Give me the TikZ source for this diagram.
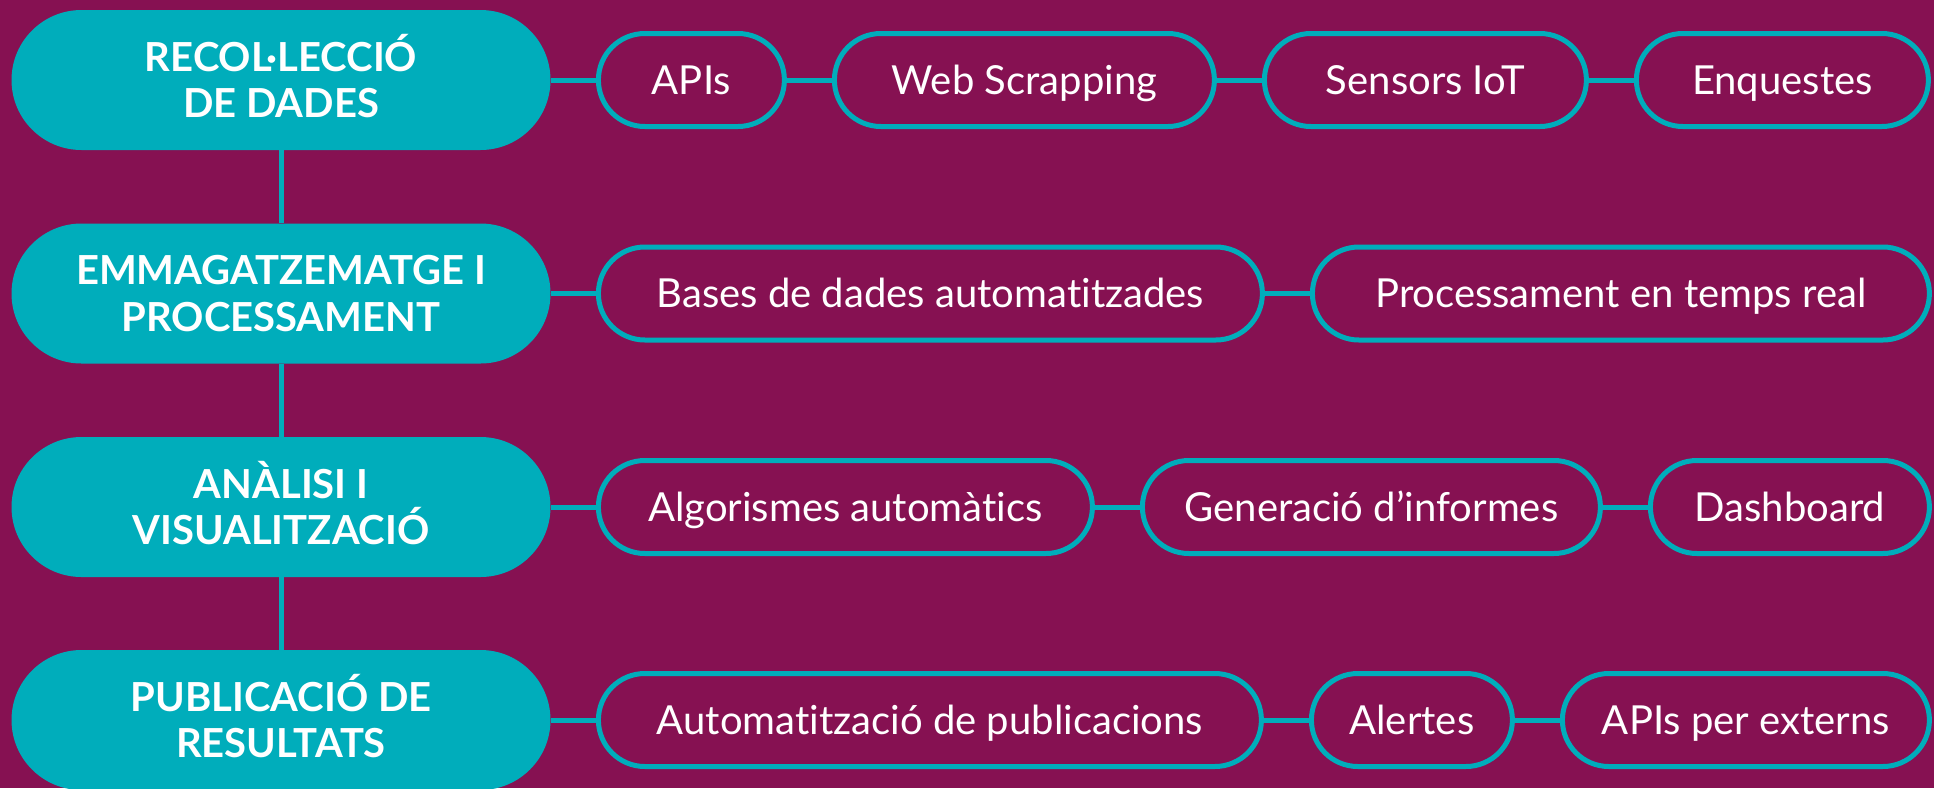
\documentclass[tikz,border=0pt]{standalone}
\usepackage{fontspec}
\setmainfont{Lato}[Ligatures=NoCommon]
\usetikzlibrary{positioning}
\definecolor{fons}{RGB}{134,17,82}
\definecolor{turquesa}{RGB}{0,173,187}
\newcommand{\px}{0.5pt}

\begin{document}
\begin{tikzpicture}[etapa/.style={fill=turquesa, rectangle, rounded corners=35pt, minimum width=539*\px, minimum height=140*\px, inner sep=0pt, text=white, align=center, text height=37.6pt, text depth=0pt, font=\fontsize{20}{23.3}\selectfont\bfseries},
    eina/.style={draw=turquesa, fill=fons, rectangle, line width=5*\px, rounded corners=23.25pt, minimum height=93*\px, inner sep=0pt, text height=14.3pt, text depth=0pt, text=white, font=\fontsize{20}{24}\selectfont},
    enllac/.style={turquesa, line width=5*\px},
    node distance=22.5pt]
    \fill[fons] (0,0) rectangle (1934*\px,-788*\px);
    \useasboundingbox (0,0) rectangle (1934*\px,-788*\px);

    % Stages
    \node[etapa] (etapa-1) at (281*\px,-80*\px) {RECOL·LECCIÓ\\DE DADES};
    \node[etapa] (etapa-2) at (281*\px,-293.5*\px) {EMMAGATZEMATGE I\\PROCESSAMENT};
    \node[etapa] (etapa-3) at (281*\px,-507*\px) {ANÀLISI I\\VISUALITZACIÓ};
    \node[etapa] (etapa-4) at (281*\px,-720*\px) {PUBLICACIÓ DE\\RESULTATS};

    \draw[enllac] (etapa-1) -- (etapa-2);
    \draw[enllac] (etapa-2) -- (etapa-3);
    \draw[enllac] (etapa-3) -- (etapa-4);

    % First row
    \node[eina, minimum width=186*\px, right=of etapa-1] (eina-1-1) {APIs};
    \node[eina, minimum width=380*\px, right=of eina-1-1] (eina-1-2) {Web Scrapping};
    \node[eina, minimum width=322*\px, right=of eina-1-2] (eina-1-3) {Sensors IoT};
    \node[eina, minimum width=292*\px, right=of eina-1-3] (eina-1-4) {Enquestes};

    \draw[enllac] (etapa-1) -- (eina-1-1);
    \draw[enllac] (eina-1-1) -- (eina-1-2);
    \draw[enllac] (eina-1-2) -- (eina-1-3);
    \draw[enllac] (eina-1-3) -- (eina-1-4);

    % Second row
    \node[eina, minimum width=664*\px, right=of etapa-2] (eina-2-1) {Bases de dades automatitzades};
    \node[eina, minimum width=617*\px, right=of eina-2-1] (eina-2-2) {Processament en temps real};

    \draw[enllac] (etapa-2) -- (eina-2-1);
    \draw[enllac] (eina-2-1) -- (eina-2-2);

    % Third row
    \node[eina, minimum width=494*\px, right=of etapa-3] (eina-3-1) {Algorismes automàtics};
    \node[eina, minimum width=458*\px, right=of eina-3-1] (eina-3-2) {Generació d’informes};
    \node[eina, minimum width=279*\px, right=of eina-3-2] (eina-3-3) {Dashboard};

    \draw[enllac] (etapa-3) -- (eina-3-1);
    \draw[enllac] (eina-3-1) -- (eina-3-2);
    \draw[enllac] (eina-3-2) -- (eina-3-3);

    % Fourth row
    \node[eina, minimum width=663*\px, right=of etapa-4] (eina-4-1) {Automatització de publicacions};
    \node[eina, minimum width=201*\px, right=of eina-4-1] (eina-4-2) {Alertes};
    \node[eina, minimum width=367*\px, right=of eina-4-2] (eina-4-3) {APIs per externs};

    \draw[enllac] (etapa-4) -- (eina-4-1);
    \draw[enllac] (eina-4-1) -- (eina-4-2);
    \draw[enllac] (eina-4-2) -- (eina-4-3);

\end{tikzpicture}
\end{document}
